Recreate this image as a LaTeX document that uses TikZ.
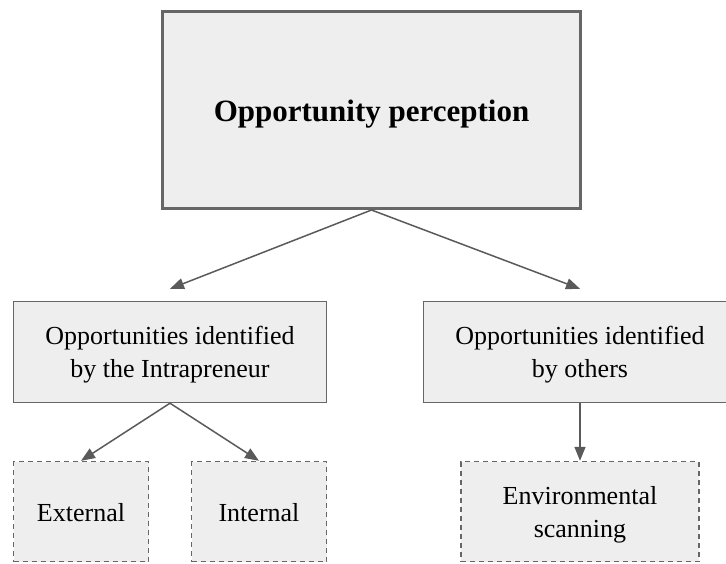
\documentclass[tikz,border=0pt]{standalone}
\usepackage{fontspec}
\setmainfont{Liberation Serif}
\usetikzlibrary{arrows.meta}
\definecolor{boxfill}{HTML}{EEEEEE}
\definecolor{boxline}{HTML}{666666}
\definecolor{arrline}{HTML}{5A5A5A}
\tikzset{
  mainbox/.style={draw=boxline, fill=boxfill, line width=3pt, inner sep=0pt,
    minimum width=418pt, minimum height=197pt},
  midbox/.style={draw=boxline, fill=boxfill, line width=1.4pt, inner sep=0pt,
    minimum width=313pt, minimum height=101pt},
  leafbox/.style={draw=boxline, fill=boxfill, line width=1.4pt, inner sep=0pt,
    dash pattern=on 5pt off 4pt, minimum height=100pt},
  titletext/.style={inner sep=0pt, font=\fontsize{31}{36}\selectfont\bfseries},
  bodytext/.style={inner sep=0pt, align=center, font=\fontsize{26}{33}\selectfont},
  arr/.style={draw=arrline, line width=1.5pt,
    -{Triangle[length=14pt,width=11pt]}}
}
\begin{document}
\begin{tikzpicture}[x=1pt,y=-1pt]
  \useasboundingbox (0,0) rectangle (726,563);
  % top-level concept
  \node[mainbox] (top) at (371.5,110) {};
  \node[titletext] (topText) at ([yshift=-4pt]top.center) {Opportunity perception};
  % two sources of opportunities
  \node[midbox] (intra) at (170,352) {};
  \node[bodytext] (intraText) at ([yshift=-3pt]intra.center) {Opportunities identified\\by the Intrapreneur};
  \node[midbox] (others) at (580,352) {};
  \node[bodytext] (othersText) at ([yshift=-3pt]others.center) {Opportunities identified\\by others};
  % leaves (dashed)
  \node[leafbox, minimum width=135pt] (ext) at (81,511.5) {};
  \node[bodytext] (extText) at ([yshift=-1pt]ext.center) {External};
  \node[leafbox, minimum width=135pt] (int) at (259,511.5) {};
  \node[bodytext] (intText) at ([yshift=-1pt]int.center) {Internal};
  \node[leafbox, minimum width=238pt] (env) at (580,511.5) {};
  \node[bodytext] (envText) at ([yshift=-3pt]env.center) {Environmental\\scanning};
  % connectors
  \coordinate (intraTip) at ([yshift=12pt]intra.north);
  \coordinate (othersTip) at ([yshift=12pt]others.north);
  \draw[arr] (top.south) -- (intraTip);
  \draw[arr] (top.south) -- (othersTip);
  \draw[arr] (intra.south) -- (ext.north);
  \draw[arr] (intra.south) -- (int.north);
  \draw[arr] (others.south) -- (env.north);
\end{tikzpicture}
\end{document}
